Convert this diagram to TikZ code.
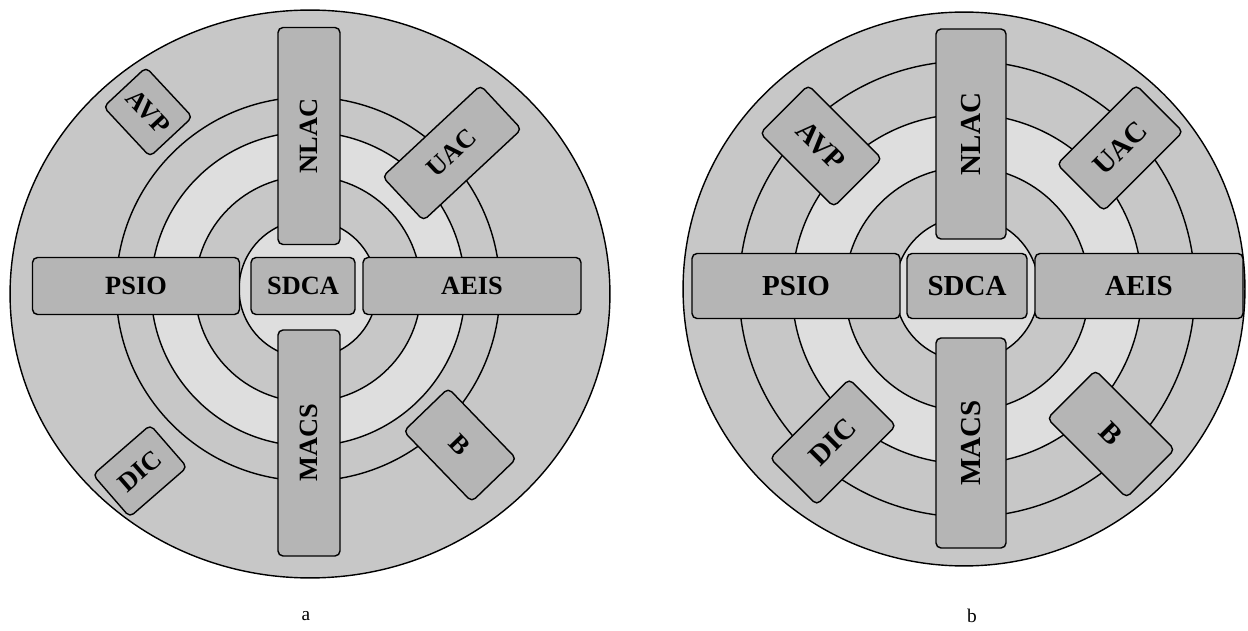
\documentclass[tikz,border=0pt]{standalone}
\usepackage{fontspec}
\setmainfont{Liberation Serif}
\usepackage{tikz}
\definecolor{darkring}{gray}{0.78}
\definecolor{lightring}{gray}{0.87}
\definecolor{boxgray}{gray}{0.71}
\tikzset{every picture/.append style={x=0.02cm, y=-0.02cm}}
\tikzset{
    ring/.style={draw, line width=0.8pt},
    block/.style={draw, fill=boxgray, rounded corners=0.1cm, line width=0.8pt,
    	inner sep=0pt, font=\bfseries\fontsize{15}{18}\selectfont},
    bigblock/.style={block, font=\bfseries\fontsize{16.5}{20}\selectfont}
}

\begin{document}
\begin{tikzpicture}
  \useasboundingbox (0,0) rectangle (1248,631);

  % wheel a
  \coordinate (ca) at (308,289);
  \draw[ring, fill=darkring] (310,294) ellipse [x radius=6cm, y radius=5.68cm];
  \draw[ring, fill=darkring] (ca) circle (3.84cm);
  \draw[ring, fill=lightring] (ca) circle (3.14cm);
  \draw[ring, fill=darkring] (ca) circle (2.26cm);
  \draw[ring, fill=lightring] (ca) circle (1.38cm);

  \node (nlacA) [block, minimum width=4.34cm, minimum height=1.24cm, rotate=90] at (309,136) {NLAC};
  \node (macsA) [block, minimum width=4.52cm, minimum height=1.24cm, rotate=90] at (309,443) {MACS};
  \node (psioA) [block, minimum width=4.14cm, minimum height=1.14cm] at (136,286) {PSIO};
  \node (sdcaA) [block, minimum width=2.08cm, minimum height=1.14cm] at (303,286) {SDCA};
  \node (aeisA) [block, minimum width=4.36cm, minimum height=1.14cm] at (472,286) {AEIS};
  \node (avpA) [block, minimum width=1.36cm, minimum height=1.16cm, rotate=-47] at (148,112) {AVP};
  \node (uacA) [block, minimum width=2.68cm, minimum height=1.2cm, rotate=43] at (452,153) {UAC};
  \node (dicA) [block, minimum width=1.52cm, minimum height=1.12cm, rotate=41] at (140,471) {DIC};
  \node (bA) [block, minimum width=1.96cm, minimum height=1.24cm, rotate=-46] at (460,445) {B};

  \node (capA) [font=\fontsize{11}{13}\selectfont] at (306,616) {a};

  % wheel b
  \coordinate (cb) at (967,289);
  \draw[ring, fill=darkring] (964,289) ellipse [x radius=5.62cm, y radius=5.54cm];
  \draw[ring, fill=darkring] (cb) circle (4.56cm);
  \draw[ring, fill=lightring] (cb) circle (3.5cm);
  \draw[ring, fill=darkring] (cb) circle (2.44cm);
  \draw[ring, fill=lightring] (cb) circle (1.44cm);

  \node (nlacB) [bigblock, minimum width=4.2cm, minimum height=1.4cm, rotate=90] at (971,134) {NLAC};
  \node (macsB) [bigblock, minimum width=4.2cm, minimum height=1.4cm, rotate=90] at (971,443) {MACS};
  \node (psioB) [bigblock, minimum width=4.16cm, minimum height=1.3cm] at (796,286) {PSIO};
  \node (sdcaB) [bigblock, minimum width=2.4cm, minimum height=1.3cm] at (967,286) {SDCA};
  \node (aeisB) [bigblock, minimum width=4.16cm, minimum height=1.3cm] at (1139,286) {AEIS};
  \node (avpB) [bigblock, minimum width=2.08cm, minimum height=1.36cm, rotate=-45] at (821,146) {AVP};
  \node (uacB) [bigblock, minimum width=2.24cm, minimum height=1.32cm, rotate=45] at (1120,148) {UAC};
  \node (dicB) [bigblock, minimum width=2.24cm, minimum height=1.32cm, rotate=45] at (833,442) {DIC};
  \node (bB) [bigblock, minimum width=2.24cm, minimum height=1.36cm, rotate=-45] at (1111,434) {B};

  \node (capB) [font=\fontsize{11}{13}\selectfont] at (972,616) {b};

\end{tikzpicture}
\end{document}
